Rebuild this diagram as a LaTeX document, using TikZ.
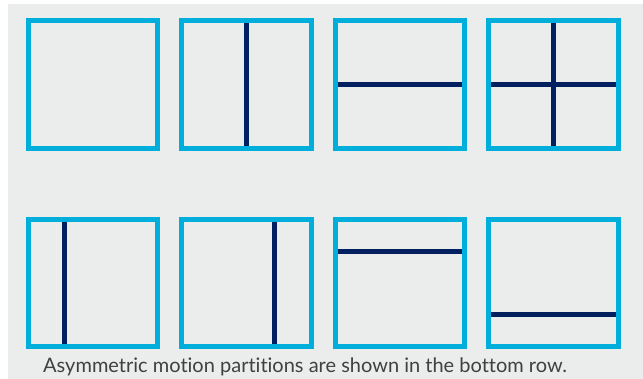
\documentclass[tikz,border=0pt]{standalone}
\usepackage{fontspec}
\setmainfont{Lato}[Ligatures={NoCommon}]
\usetikzlibrary{calc}
\definecolor{pucyan}{RGB}{0,174,219}
\definecolor{punavy}{RGB}{0,32,96}
\definecolor{pugray}{RGB}{235,236,236}
\definecolor{putext}{RGB}{64,64,64}

\begin{document}
\begin{tikzpicture}[x=1pt, y=-1pt,
       cu/.style = {draw=pucyan, line width=4.7pt, outer sep=0pt, inner sep=0pt,
                    minimum width=129.5pt, minimum height=128.5pt},
    split/.style = {punavy, line width=5pt, shorten >=2.35pt, shorten <=2.35pt}
                        ]
% canvas
    \useasboundingbox[fill=white] (0,0) rectangle (643,379);
    \fill[pugray] (8,4) rectangle (643,379);
% symmetric partitions
    \node[cu] (cu1) at (93,84.5) {};
    \node[cu] (cu2) at (246.5,84.5) {};
    \node[cu] (cu3) at (400,84.5) {};
    \node[cu] (cu4) at (553.5,84.5) {};
    \draw[split] (cu2.north) -- (cu2.south);
    \draw[split] (cu3.west) -- (cu3.east);
    \draw[split] (cu4.north) -- (cu4.south);
    \draw[split] (cu4.west) -- (cu4.east);
% asymmetric partitions
    \node[cu, minimum height=127.5pt] (cu5) at (93,283) {};
    \node[cu, minimum height=127.5pt] (cu6) at (246.5,283) {};
    \node[cu, minimum height=127.5pt] (cu7) at (400,283) {};
    \node[cu, minimum height=127.5pt] (cu8) at (553.5,283) {};
    \draw[split] ($(cu5.north west)!0.28!(cu5.north east)$) -- ($(cu5.south west)!0.28!(cu5.south east)$);
    \draw[split] ($(cu6.north west)!0.72!(cu6.north east)$) -- ($(cu6.south west)!0.72!(cu6.south east)$);
    \draw[split] ($(cu7.north west)!0.255!(cu7.south west)$) -- ($(cu7.north east)!0.255!(cu7.south east)$);
    \draw[split] ($(cu8.north west)!0.75!(cu8.south west)$) -- ($(cu8.north east)!0.75!(cu8.south east)$);
% caption
    \node[anchor=base west, inner sep=0pt, text=putext, font=\fontsize{20}{24}\selectfont]
        (cap) at (43,373) {Asymmetric motion partitions are shown in the bottom row.};
\end{tikzpicture}
\end{document}
